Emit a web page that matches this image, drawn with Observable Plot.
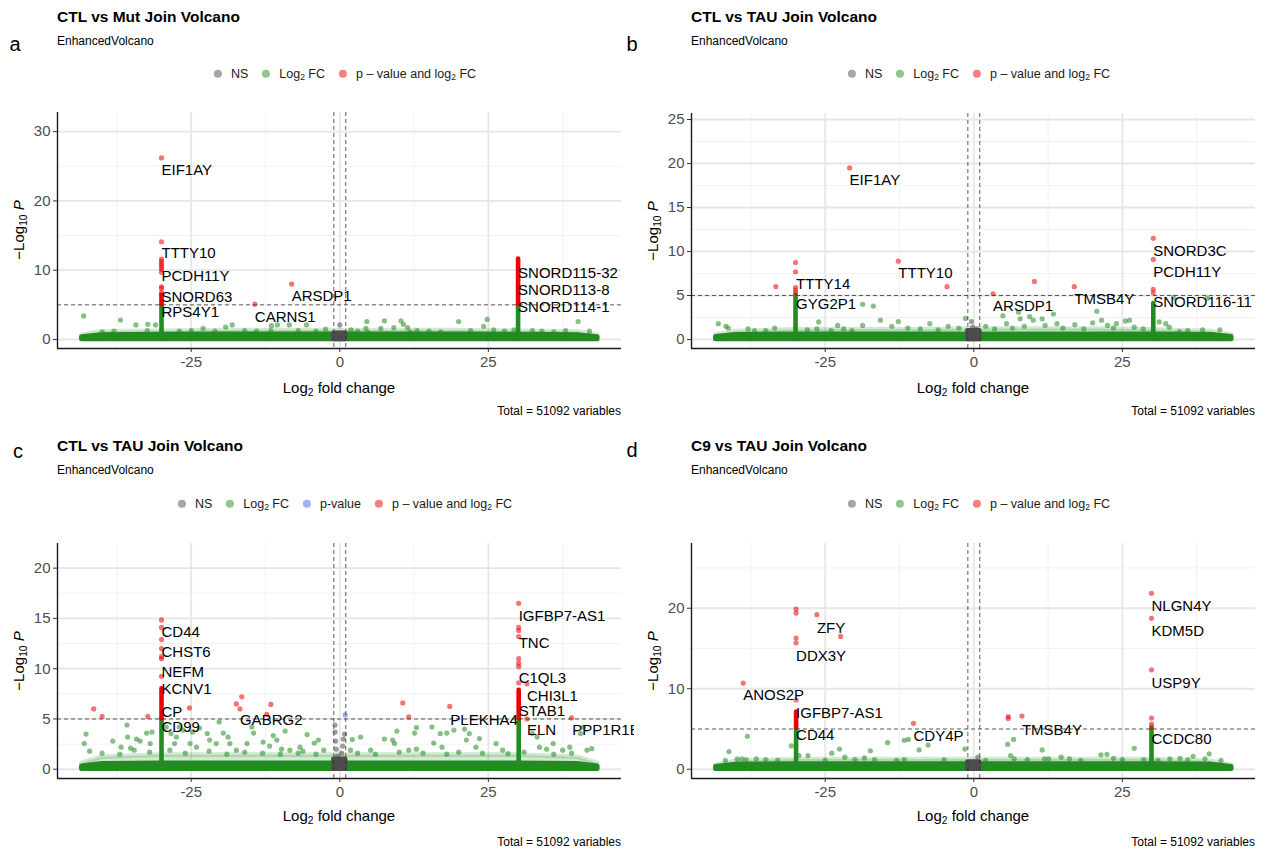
<!DOCTYPE html>
<html><head><meta charset="utf-8">
<script src="https://cdn.jsdelivr.net/npm/d3@7"></script>
<script src="https://cdn.jsdelivr.net/npm/@observablehq/plot@0.6"></script>
<style>
body{margin:0;background:#fff;font-family:"Liberation Sans",Arial,sans-serif;}
#page{position:relative;width:1268px;height:852px;overflow:hidden;background:#fff;}
.panel{position:absolute;width:634px;height:426px;overflow:hidden;}
.panel svg{position:absolute;left:0;top:0;}
.abs{position:absolute;white-space:nowrap;line-height:1;}
.title{font-weight:bold;font-size:15.5px;color:#000;transform:translateY(-50%);}
.sub{font-size:12px;color:#000;transform:translateY(-50%);}
.letter{font-size:20px;color:#000;transform:translate(-50%,-50%);}
.legend{display:flex;align-items:center;font-size:12.5px;color:#1a1a1a;transform:translate(-50%,-50%);}
.legend .item{display:flex;align-items:center;margin:0 7px;}
.legend .dot{width:8px;height:8px;border-radius:50%;display:inline-block;margin-right:9px;}
.xtitle{font-size:15px;color:#000;transform:translate(-50%,-50%);}
.ytitle{font-size:15px;color:#000;transform:translate(-50%,-50%) rotate(-90deg);}
.caption{font-size:12px;color:#000;transform:translateY(-50%);}
sub{font-size:68%;vertical-align:-0.3em;line-height:0;}
</style>
</head><body><div id="page"></div>
<script>
// ---------- shared text / scale data ----------
const panelTitles = ["CTL vs Mut Join Volcano","CTL vs TAU Join Volcano","CTL vs TAU Join Volcano","C9 vs TAU Join Volcano"];
const panelLetters = ["a","b","c","d"];
const subtitleText = "EnhancedVolcano";
const captionText = "Total = 51092 variables";
const xTicks = [-25, 0, 25];
const xMinor = [-37.5, -12.5, 12.5, 37.5];
const fcCutoffs = [-1, 1];
const pCutoff = [5];
const bandX = [-43.4, -40, -30, -20, -10, 0, 10, 20, 30, 40, 43.4];
const coreX = [-1, 1];

// ---------- panel a ----------
const aYTicks = [0, 10, 20, 30];
const aYMinor = [5, 15, 25];
const aBandTop = [0.35, 0.65, 0.7, 0.75, 0.75, 0.75, 0.75, 0.75, 0.7, 0.65, 0.35];
const aFringeTop = [0.6, 1.1, 1.2, 1.3, 1.3, 1.3, 1.3, 1.3, 1.2, 1.1, 0.6];
const aCoreTop = 0.9;
const aGreen = [[-43.1,3.4],[-36.9,2.8],[-34.3,2.1],[-32.4,1.3],[-32.3,2.2],[-31.0,2.1],[-23.0,1.6],[-19.2,1.8],[-18.1,2.1],[-11.5,2.0],[-10.5,2.1],[-11.6,1.3],[-8.5,2.1],[-5.6,2.1],[-2.4,1.5],[1.9,1.4],[4.4,1.6],[4.55,2.6],[4.8,1.0],[6.9,1.6],[7.5,2.7],[9.1,1.7],[10.3,2.7],[10.7,2.2],[11.4,1.7],[11.8,1.1],[20.0,2.6],[24.2,1.9],[24.8,2.9],[25.9,1.4],[27.7,1.2],[29.3,1.4],[32.4,1.3],[40.1,2.6],[-40,1.1],[-38,1.2],[-27,1.2],[-25,1.3],[-21,1.2],[-16,1.3],[-14,1.2],[-7,1.3],[-4,1.2],[3,1.2],[13,1.3],[15,1.2],[17,1.1],[22,1.3],[34,1.2],[36,1.1],[38,1.3],[42,1.2]];
const aGrey = [[0,2.1]];
const aBlue = [];
const aRed = [[-30,26.2],[-30,14.1],[-30,11.6],[-30,11.3],[-30,11.0],[-30,10.7],[-30,10.4],[-30,10.1],[-30,9.7],[-30,7.6],[-30,7.4],[-30,6.8],[-30,6.5],[-8.1,8.0],[-14.3,5.1]];
const aGreenStacks = [[-30,0,5],[30,0,5]];
const aRedStacks = [[-30,5,6.3],[30,5,11.6]];
const aLabels = [["EIF1AY",-30,24.4],["TTTY10",-30,12.4],["PCDH11Y",-30,9.2],["SNORD63",-30,6.1],["RPS4Y1",-30,3.9],["ARSDP1",-8.1,6.2],["CARNS1",-14.3,3.2],["SNORD115-32",30,9.5],["SNORD113-8",30,7.1],["SNORD114-1",30,4.6]];

// ---------- panel b ----------
const bYTicks = [0, 5, 10, 15, 20, 25];
const bYMinor = [2.5, 7.5, 12.5, 17.5, 22.5];
const bBandTop = [0.3, 0.55, 0.6, 0.6, 0.6, 0.6, 0.6, 0.6, 0.6, 0.55, 0.3];
const bFringeTop = [0.5, 0.9, 1.1, 1.1, 1.1, 1.2, 1.2, 1.2, 1.1, 0.9, 0.5];
const bCoreTop = 1.0;
const bGreen = [[-43.0,1.8],[-41.7,1.5],[-41.3,1.3],[-36.9,1.0],[-33.5,1.3],[-26.1,2.0],[-26.4,1.2],[-22.9,1.6],[-21.9,1.2],[-20.5,1.0],[-18.7,4.0],[-16.9,3.8],[-15.7,2.2],[-18.7,1.6],[-12.7,2.05],[-13.8,1.5],[-11.1,1.3],[-7.4,1.8],[-4.3,1.5],[-1.4,2.4],[4.9,2.7],[7.5,3.1],[13.4,2.9],[7.8,2.35],[9.4,2.6],[10.0,2.2],[11.5,2.35],[20.7,3.2],[21.5,2.2],[20.0,1.9],[25.5,2.1],[26.2,2.2],[31.2,2.0],[32.3,1.8],[32.9,1.4],[34.6,0.9],[38.5,1.1],[41.4,1.1],[33.6,4.8],[39.3,4.7],[2,1.5],[3.5,1.2],[5.5,1.8],[6.5,1.3],[8.5,1.5],[12,1.6],[14,1.8],[15,1.3],[17,1.7],[18.5,1.2],[22.5,1.6],[23.5,1.3],[24,1.8],[27,1.4],[28.5,1.2],[36,1.0],[-38,1.2],[-35,1.0],[-28,1.1],[-24,1.0],[-9,1.2],[-6,1.1],[-2.5,1.3]];
const bGrey = [[-0.4,2.05],[-0.2,1.4],[0.5,1.2]];
const bBlue = [];
const bRed = [[-20.9,19.5],[-30,8.75],[-30,7.7],[-33.3,6.0],[-30,5.9],[-30,5.6],[-30,5.3],[-12.7,8.9],[-4.5,6.0],[3.25,5.2],[10.2,6.6],[16.9,6.0],[30.2,11.5],[30.2,9.1],[30.2,5.7],[30.2,5.3]];
const bGreenStacks = [[-30,0,5],[30.2,0,4.1]];
const bRedStacks = [];
const bLabels = [["EIF1AY",-20.9,18.1],["TTTY14",-29.9,6.25],["GYG2P1",-29.9,4.0],["TTTY10",-12.7,7.5],["ARSDP1",3.25,3.75],["TMSB4Y",16.9,4.55],["SNORD3C",30.2,10.0],["PCDH11Y",30.2,7.6],["SNORD116-11",30.2,4.25]];

// ---------- panel c ----------
const cYTicks = [0, 5, 10, 15, 20];
const cYMinor = [2.5, 7.5, 12.5, 17.5];
const cBandTop = [0.3, 0.55, 0.6, 0.6, 0.6, 0.6, 0.6, 0.6, 0.6, 0.55, 0.3];
const cFringeTop = [0.6, 1.2, 1.4, 1.4, 1.4, 1.4, 1.4, 1.4, 1.4, 1.2, 0.6];
const cCoreTop = 1.0;
const cGreen = [[-42.7,3.5],[-43.0,2.55],[-42.1,1.8],[-38.2,2.8],[-35.8,4.4],[-35.7,3.2],[-36.8,2.2],[-34.2,3.0],[-33.6,2.8],[-32.5,3.6],[-31.6,3.7],[-31.9,2.55],[-34.6,1.9],[-35.2,2.1],[-29.2,4.2],[-28.4,3.55],[-27.5,3.2],[-27.0,4.2],[-26.4,3.9],[-27.8,2.55],[-28.6,1.9],[-24.8,3.7],[-23.6,4.1],[-22.3,3.55],[-25.2,2.55],[-24.1,2.2],[-21.9,2.9],[-20.8,2.55],[-20.3,4.7],[-19.6,3.6],[-18.8,3.2],[-18.5,2.55],[-17.4,1.9],[-15.6,2.55],[-14.8,4.2],[-14.5,3.6],[-12.9,2.7],[-11.8,2.3],[-11.2,3.35],[-10.6,2.9],[-9.2,3.8],[-9.8,2.0],[-8.4,1.9],[-5.5,3.45],[-6.7,2.2],[-6.2,1.8],[-4.3,2.6],[-3.6,2.9],[-2.7,1.9],[2.1,2.95],[3.5,3.2],[1.8,1.9],[5.2,1.9],[7.5,3.0],[8.9,2.9],[9.2,2.55],[9.6,3.8],[12.9,4.15],[12.6,3.6],[11.6,1.9],[12.9,2.0],[15.5,4.2],[16.9,3.55],[15.8,2.6],[17.2,2.2],[18.0,3.6],[19.2,3.9],[21.0,4.0],[21.8,3.55],[21.3,2.9],[23.5,3.05],[22.9,2.2],[26.3,2.55],[27.4,1.9],[28.3,1.55],[32.4,3.55],[33.2,3.2],[33.6,2.2],[34.8,2.0],[35.9,2.55],[37.5,1.9],[38.7,2.2],[41.0,4.2],[40.5,3.55],[41.6,1.9],[42.4,2.05],[-40,1.6],[-37,1.5],[-32,1.7],[-26,1.6],[-22,1.8],[-19,1.5],[-16,1.7],[-13,1.6],[-10,1.5],[-7,1.6],[-4,1.5],[3,1.6],[6,1.5],[10,1.7],[14,1.6],[18,1.5],[20,1.7],[24,1.6],[31,1.7],[36,1.5],[39,1.6]];
const cGrey = [[-0.8,4.4],[-0.8,3.7],[0.8,3.5],[0.6,3.0],[-0.7,2.8],[0.5,2.3],[-0.6,2.0],[0.3,1.6],[-0.4,1.3],[0.7,1.0]];
const cBlue = [[0.9,5.4]];
const cRed = [[-41.4,6.0],[-40.0,5.25],[-32.3,5.25],[-30,14.85],[-30,14.1],[-30,12.9],[-30,12.0],[-30,11.2],[-30,11.0],[-30,9.25],[-25.3,6.1],[-17.4,6.5],[-16.5,7.2],[-16.8,6.0],[-11.6,6.45],[-12.3,5.45],[30.1,16.5],[30.1,14.1],[30.1,13.8],[30.1,13.2],[30.1,11.0],[30.1,10.55],[30.1,10.2],[30.1,8.6],[31.5,8.5],[10.6,6.6],[11.6,5.2],[18.5,6.25],[31.5,5.0],[39.0,5.1]];
const cGreenStacks = [[-30,0,5],[30.1,0,5]];
const cRedStacks = [[-30,5,8.0],[30.1,5,7.85]];
const cLabels = [["CD44",-30,13.6],["CHST6",-30,11.6],["NEFM",-30,9.65],["KCNV1",-30,8.0],["CP",-30,5.7],["CD99",-30,4.2],["GABRG2",-16.8,4.85],["IGFBP7-AS1",30.1,15.2],["TNC",30.1,12.5],["C1QL3",30.1,9.05],["CHI3L1",31.5,7.3],["STAB1",30.1,5.8],["PLEKHA4",18.6,4.9],["ELN",31.5,3.9],["PPP1R1B",39.1,3.9]];

// ---------- panel d ----------
const dYTicks = [0, 10, 20];
const dYMinor = [5, 15, 25];
const dBandTop = [0.3, 0.6, 0.65, 0.65, 0.65, 0.65, 0.65, 0.65, 0.65, 0.6, 0.3];
const dFringeTop = [0.5, 1.0, 1.2, 1.2, 1.2, 1.2, 1.2, 1.2, 1.2, 1.0, 0.5];
const dCoreTop = 0.9;
const dGreen = [[-38.1,4.1],[-41.2,2.2],[-41.8,1.1],[-39.8,1.3],[-39.0,1.3],[-38.3,1.2],[-36.6,1.3],[-35.0,1.2],[-30.7,2.9],[-29.4,1.7],[-27.9,1.7],[-23.9,2.0],[-22.6,2.5],[-21.7,1.5],[-25.0,1.1],[-17.4,2.3],[-14.5,3.3],[-11.7,3.6],[-11.0,3.7],[-9.2,2.4],[-7.7,3.0],[-11.7,1.2],[-18.4,1.4],[-16.7,1.2],[-1.5,2.5],[5.7,3.1],[6.7,3.7],[6.2,1.7],[6.8,1.3],[11.5,2.4],[11.9,1.3],[12.6,1.3],[14.7,1.5],[16.1,1.3],[21.4,1.8],[22.4,1.85],[23.5,1.35],[27.0,2.6],[28.6,1.2],[33.0,1.3],[34.7,1.35],[36.9,1.6],[38.9,1.3],[39.6,1.9],[41.6,1.1],[-33,1.1],[-20,1.2],[-13,1.1],[-5,1.2],[2,1.1],[9,1.2],[18,1.1],[25,1.2],[31,1.1],[36,1.2]];
const dGrey = [[0.7,1.5]];
const dBlue = [];
const dRed = [[-29.9,19.9],[-29.9,19.4],[-26.4,19.2],[-29.9,16.3],[-29.9,15.7],[-22.4,16.5],[-38.8,10.7],[-29.9,8.6],[-10.15,5.7],[29.9,21.85],[29.9,18.75],[29.9,12.35],[29.9,6.35],[29.9,5.6],[29.9,5.25],[5.8,6.55],[5.8,6.3],[8.1,6.6]];
const dGreenStacks = [[-29.9,0,5],[29.9,0,5]];
const dRedStacks = [[-29.9,5.1,7.1]];
const dLabels = [["ZFY",-26.4,17.55],["DDX3Y",-29.9,14.1],["ANOS2P",-38.8,9.2],["IGFBP7-AS1",-29.9,7.0],["CD44",-29.9,4.2],["CDY4P",-10.15,4.1],["NLGN4Y",29.9,20.2],["KDM5D",29.9,17.15],["USP9Y",29.9,10.75],["TMSB4Y",8.1,4.9],["CCDC80",29.9,3.7]];

// ---------- styling / layout ----------
const GREEN = "#228B22", RED = "#EE0000", GREY = "#4D4D4D", BLUE = "#4169E1";
const FONT = "Liberation Sans, Arial, sans-serif";
const xDomain = [-47.5, 47.4];

const panels = [
  {left:0, top:0, yTicks:aYTicks, yMinor:aYMinor, band:aBandTop, fringe:aFringeTop, core:aCoreTop, green:aGreen, grey:aGrey, blue:aBlue, red:aRed, gs:aGreenStacks, rs:aRedStacks, labels:aLabels, pTop:112, pBot:348, yDomain:[-1.3,32.76], titleY:17, subY:41, legY:74, xtY:387, capY:411, blueLegend:false, letter:[15,44]},
  {left:634, top:0, yTicks:bYTicks, yMinor:bYMinor, band:bBandTop, fringe:bFringeTop, core:bCoreTop, green:bGreen, grey:bGrey, blue:bBlue, red:bRed, gs:bGreenStacks, rs:bRedStacks, labels:bLabels, pTop:113, pBot:348, yDomain:[-1.02,25.68], titleY:17, subY:41, legY:74, xtY:387, capY:411, blueLegend:false, letter:[632,44]},
  {left:0, top:426, yTicks:cYTicks, yMinor:cYMinor, band:cBandTop, fringe:cFringeTop, core:cCoreTop, green:cGreen, grey:cGrey, blue:cBlue, red:cRed, gs:cGreenStacks, rs:cRedStacks, labels:cLabels, pTop:117, pBot:352, yDomain:[-0.92,22.45], titleY:20, subY:44, legY:78, xtY:389, capY:416, blueLegend:true, letter:[18,451]},
  {left:634, top:426, yTicks:dYTicks, yMinor:dYMinor, band:dBandTop, fringe:dFringeTop, core:dCoreTop, green:dGreen, grey:dGrey, blue:dBlue, red:dRed, gs:dGreenStacks, rs:dRedStacks, labels:dLabels, pTop:117, pBot:352, yDomain:[-1.15,28.04], titleY:20, subY:44, legY:78, xtY:389, capY:416, blueLegend:false, letter:[632,450]}
];

const page = document.getElementById("page");

function el(parent, cls, html, x, y) {
  const d = document.createElement("div");
  d.className = "abs " + cls;
  d.innerHTML = html;
  d.style.left = x + "px";
  d.style.top = y + "px";
  parent.appendChild(d);
  return d;
}

panels.forEach((p, i) => {
  const div = document.createElement("div");
  div.className = "panel";
  div.style.left = p.left + "px";
  div.style.top = p.top + "px";
  page.appendChild(div);

  const bandData = bandX.map((x, k) => ({x, y: p.band[k]}));
  const fringeData = bandX.map((x, k) => ({x, y: p.fringe[k]}));
  const coreData = coreX.map(x => ({x, y: p.core}));
  const xy = {x: d => d[0], y: d => d[1]};

  const chart = Plot.plot({
    width: 634, height: 426,
    marginLeft: 57, marginRight: 13, marginTop: p.pTop, marginBottom: 426 - p.pBot,
    x: {domain: xDomain},
    y: {domain: p.yDomain},
    style: {fontFamily: FONT, fontSize: "15px", background: "transparent"},
    marks: [
      Plot.ruleX(xMinor, {stroke: "#f1f1f1", strokeWidth: 0.9}),
      Plot.ruleY(p.yMinor, {stroke: "#f1f1f1", strokeWidth: 0.9}),
      Plot.ruleX(xTicks, {stroke: "#e6e6e6", strokeWidth: 1.8}),
      Plot.ruleY(p.yTicks, {stroke: "#e6e6e6", strokeWidth: 1.8}),
      Plot.areaY(fringeData, {x: "x", y1: 0, y2: "y", fill: GREEN, fillOpacity: 0.2, stroke: GREEN, strokeOpacity: 0.2, strokeWidth: 4.6, strokeLinejoin: "round"}),
      Plot.dot(p.green, {...xy, r: 2.6, fill: GREEN, fillOpacity: 0.55}),
      Plot.areaY(bandData, {x: "x", y1: 0, y2: "y", fill: GREEN, stroke: GREEN, strokeWidth: 4.6, strokeLinejoin: "round"}),
      Plot.dot(p.grey, {...xy, r: 2.6, fill: GREY, fillOpacity: 0.55}),
      Plot.areaY(coreData, {x: "x", y1: 0, y2: "y", fill: GREY, stroke: GREY, strokeWidth: 4.6, strokeLinejoin: "round"}),
      Plot.ruleX(p.gs, {x: d => d[0], y1: d => d[1], y2: d => d[2], stroke: GREEN, strokeWidth: 4.6, strokeLinecap: "round"}),
      Plot.ruleX(p.rs, {x: d => d[0], y1: d => d[1], y2: d => d[2], stroke: RED, strokeWidth: 4.6, strokeLinecap: "round"}),
      Plot.dot(p.blue, {...xy, r: 2.6, fill: BLUE, fillOpacity: 0.55}),
      Plot.dot(p.red, {...xy, r: 2.6, fill: RED, fillOpacity: 0.55}),
      Plot.ruleX(fcCutoffs, {stroke: "#333", strokeWidth: 0.8, strokeDasharray: "4,3"}),
      Plot.ruleY(pCutoff, {stroke: "#333", strokeWidth: 0.8, strokeDasharray: "4,3"}),
      Plot.ruleY([p.yDomain[0]], {stroke: "#1a1a1a", strokeWidth: 1.4}),
      Plot.ruleX([xDomain[0]], {stroke: "#1a1a1a", strokeWidth: 1.4}),
      Plot.axisX({ticks: xTicks, tickFormat: d => String(d), tickSize: 4, tickPadding: 4, stroke: "#333", fill: "#4d4d4d", fontSize: 15, label: null}),
      Plot.axisY({ticks: p.yTicks, tickFormat: d => String(d), tickSize: 4, tickPadding: 3, stroke: "#333", fill: "#4d4d4d", fontSize: 15, label: null}),
      Plot.text(p.labels, {x: d => d[1], y: d => d[2], text: d => d[0], textAnchor: "start", fontSize: 15, fill: "#000"})
    ]
  });
  div.appendChild(chart);

  el(div, "title", panelTitles[i], 57, p.titleY);
  el(div, "sub", subtitleText, 57, p.subY);
  const legItems = [
    ["#a6a6a6", "NS"],
    ["#90c590", "Log<sub>2</sub> FC"],
    ...(p.blueLegend ? [["#a0b4f0", "p-value"]] : []),
    ["#f68080", "p \u2013 value and log<sub>2</sub> FC"]
  ];
  el(div, "legend", legItems.map(([c, t]) => `<span class="item"><span class="dot" style="background:${c}"></span><span>${t}</span></span>`).join(""), 345, p.legY);
  el(div, "xtitle", "Log<sub>2</sub> fold change", 339, p.xtY);
  el(div, "ytitle", "\u2212Log<sub>10</sub> <i>P</i>", 18, (p.pTop + p.pBot) / 2);
  const cap = el(div, "caption", captionText, 0, p.capY);
  cap.style.left = "auto"; cap.style.right = "13px";

  el(page, "letter", panelLetters[i], p.letter[0], p.letter[1]);
});
</script>
</body></html>
